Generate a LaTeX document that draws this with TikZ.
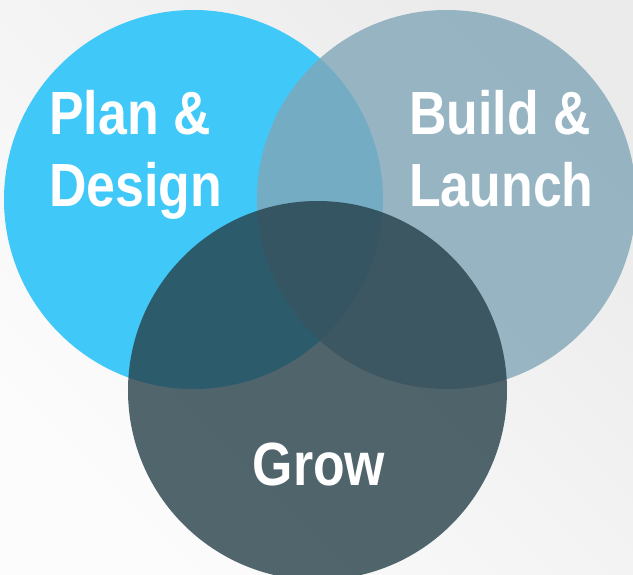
\documentclass[tikz,border=0pt]{standalone}
\usepackage{fontspec}
\newfontfamily\vennfont[FakeStretch=0.85]{Liberation Sans Bold}
\definecolor{bgtop}{HTML}{EBEBEB}
\definecolor{bgbottom}{HTML}{FCFCFC}
\definecolor{plancol}{HTML}{40C8F8}
\definecolor{buildcol}{HTML}{81A6B8}
\definecolor{growcol}{HTML}{27404A}
\tikzset{
  setcircle/.style={circle, minimum size=379pt, inner sep=0pt, draw=none},
  setlabel/.style={text=white, inner sep=0pt, align=left,
    font=\vennfont\fontsize{61}{72.6}\selectfont},
}
\begin{document}
\begin{tikzpicture}[x=1pt,y=-1pt]
  \useasboundingbox (0,0) rectangle (633,575);
  \clip (0,0) rectangle (633,575);
  % soft grey backdrop, darker toward the upper right
  \shade[bottom color=bgbottom, top color=bgtop, shading angle=-45]
    (0,0) rectangle (633,575);
  % the three sets
  \node[setcircle, fill=plancol] (plan) at (193.5,199.5) {};
  \node[setcircle, fill=buildcol, fill opacity=0.8] (build) at (446.5,199.5) {};
  \node[setcircle, fill=growcol, fill opacity=0.8] (grow) at (317.5,390.5) {};
  % labels
  \node[setlabel, anchor=north west] (plantext) at (49,90) {Plan \&\\Design};
  \node[setlabel, anchor=north west] (buildtext) at (409,90) {Build \&\\Launch};
  \node[setlabel, anchor=base] (growtext) at (319,485) {Grow};
\end{tikzpicture}
\end{document}
